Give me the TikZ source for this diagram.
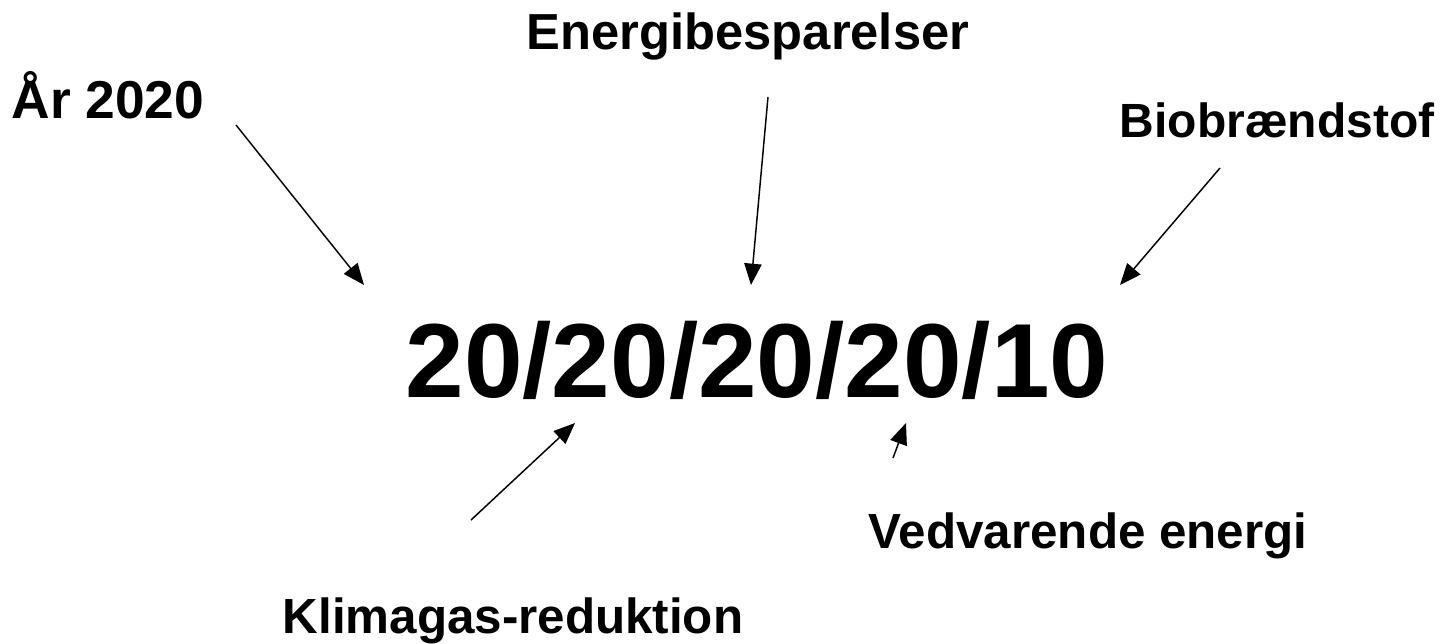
\documentclass[tikz,border=0pt]{standalone}
\usepackage{fontspec}
\setmainfont{Liberation Sans}
\usetikzlibrary{arrows.meta}
\begin{document}
\begin{tikzpicture}[x=0.75pt,y=-0.75pt,
  lbl/.style={anchor=base,font=\bfseries\fontsize{37}{40}\selectfont,inner sep=0pt},
  pil/.style={draw,line width=1.1pt,-{Triangle[length=16pt,width=13pt]}}]
\useasboundingbox (0,0) rectangle (1449,643);
\node[lbl,font=\bfseries\fontsize{40}{44}\selectfont] (aar) at (108,118) {År 2020};
\node[lbl,font=\bfseries\fontsize{38}{42}\selectfont] (spar) at (748,49) {Energibesparelser};
\node[lbl,font=\bfseries\fontsize{36}{40}\selectfont] (bio) at (1277,137) {Biobrændstof};
\node[lbl,font=\bfseries\fontsize{79}{86}\selectfont] (tal) at (757,397) {20/20/20/20/10};
\node[lbl] (vedv) at (1088,548) {Vedvarende energi};
\node[lbl] (klima) at (513,633) {Klimagas-reduktion};

\coordinate (a1) at (236,125);
\coordinate (a2) at (364,285);
\coordinate (s1) at (768,97);
\coordinate (s2) at (751,285);
\coordinate (b1) at (1220,168);
\coordinate (b2) at (1120,285);
\coordinate (k1) at (471,520);
\coordinate (k2) at (575,423);
\coordinate (v1) at (893,458);
\coordinate (v2) at (906,423);

\path[pil] (a1) -- (a2);
\path[pil] (s1) -- (s2);
\path[pil] (b1) -- (b2);
\path[pil] (k1) -- (k2);
\path[pil] (v1) -- (v2);
\end{tikzpicture}
\end{document}
